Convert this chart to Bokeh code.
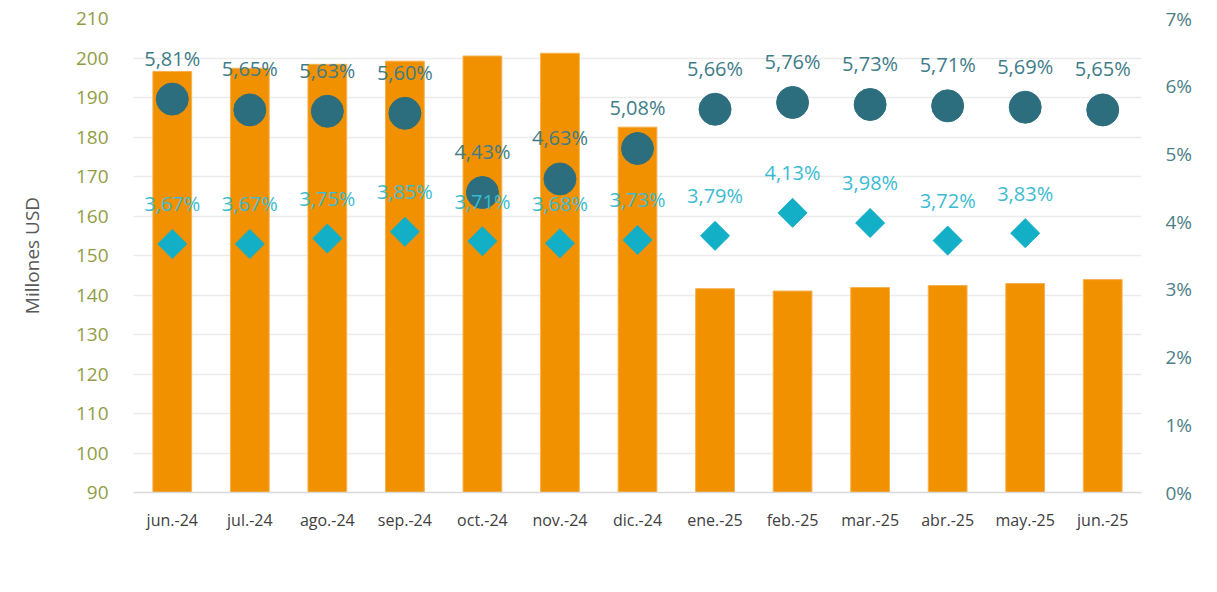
import math
import numpy as np
from bokeh.plotting import figure
from bokeh.models import (ColumnDataSource, Range1d, LinearAxis, SingleIntervalTicker,
                          PrintfTickFormatter, Legend, LegendItem)
from bokeh.core.properties import value
from bokeh.embed import file_html
from bokeh.resources import INLINE

months = ["jun.-24", "jul.-24", "ago.-24", "sep.-24", "oct.-24", "nov.-24", "dic.-24",
          "ene.-25", "feb.-25", "mar.-25", "abr.-25", "may.-25", "jun.-25"]
portafolio = [196.6, 197.4, 198.4, 199.2, 200.5, 201.2, 182.5,
              141.6, 141.0, 141.9, 142.4, 142.9, 143.9]
rendimiento = [5.81, 5.65, 5.63, 5.60, 4.43, 4.63, 5.08,
               5.66, 5.76, 5.73, 5.71, 5.69, 5.65]
tasa = [3.67, 3.67, 3.75, 3.85, 3.71, 3.68, 3.73,
        3.79, 4.13, 3.98, 3.72, 3.83, float("nan")]

def fmt(v):
    return "" if v != v else f"{v:.2f}%".replace(".", ",")

FONT = "Open Sans"

src = ColumnDataSource(dict(
    x=months, bar=portafolio, rend=rendimiento, tasa=tasa,
    rend_lbl=[fmt(v) for v in rendimiento], tasa_lbl=[fmt(v) for v in tasa],
))

p = figure(x_range=months, y_range=Range1d(90, 210),
           frame_width=1008, frame_height=474,
           output_backend="svg", toolbar_location=None,
           min_border_left=133, min_border_right=76, min_border_top=18, min_border_bottom=10)
p.extra_y_ranges = {"pct": Range1d(0, 7)}
p.outline_line_color = None
p.background_fill_color = "white"
p.border_fill_color = "white"

# grid
p.xgrid.grid_line_color = None
p.ygrid.grid_line_color = "#EBEBEB"
p.ygrid.grid_line_width = 1.5
p.ygrid.ticker = SingleIntervalTicker(interval=10)

# bars
p.vbar(x="x", top="bar", bottom=90, width=0.5, source=src,
       fill_color="#F29100", line_color="#F6B14F", line_width=1)

# markers on right axis
p.scatter(x="x", y="rend", source=src, y_range_name="pct", marker="circle",
          size=32, fill_color="#2C6E7D", line_color="#2C6E7D")
p.scatter(x="x", y="tasa", source=src, y_range_name="pct", marker="square",
          angle=math.pi / 4, size=20.5, fill_color="#12AFC7", line_color="#12AFC7")

# data labels
p.text(x="x", y="rend", text="rend_lbl", source=src, y_range_name="pct",
       y_offset=-41, text_align="center", text_baseline="middle",
       text_font=value(FONT), text_font_size="20px", text_color="#3E7C89")
p.text(x="x", y="tasa", text="tasa_lbl", source=src, y_range_name="pct",
       y_offset=-40, text_align="center", text_baseline="middle",
       text_font=value(FONT), text_font_size="20px", text_color="#3BBBD2")

# axes
ya = p.yaxis[0]
ya.ticker = SingleIntervalTicker(interval=10)
ya.axis_line_color = None
ya.major_tick_line_color = None
ya.minor_tick_line_color = None
ya.major_tick_out = 0
ya.major_tick_in = 0
ya.minor_tick_out = 0
ya.major_label_text_font = FONT
ya.major_label_text_font_size = "19px"
ya.major_label_text_color = "#939D45"
ya.major_label_standoff = 25
ya.axis_label = "Millones USD"
ya.axis_label_text_font = FONT
ya.axis_label_text_font_size = "19px"
ya.axis_label_text_font_style = "normal"
ya.axis_label_text_color = "#595959"
ya.axis_label_standoff = 28

ra = LinearAxis(y_range_name="pct", ticker=SingleIntervalTicker(interval=1),
                formatter=PrintfTickFormatter(format="%d%%"))
ra.axis_line_color = None
ra.major_tick_line_color = None
ra.minor_tick_line_color = None
ra.major_tick_out = 0
ra.major_tick_in = 0
ra.minor_tick_out = 0
ra.major_label_text_font = FONT
ra.major_label_text_font_size = "19px"
ra.major_label_text_color = "#4D7F87"
ra.major_label_standoff = 24
p.add_layout(ra, "right")

xa = p.xaxis[0]
xa.axis_line_color = "#D9D9D9"
xa.axis_line_width = 1.5
xa.major_tick_line_color = None
xa.minor_tick_line_color = None
xa.major_tick_out = 0
xa.major_tick_in = 0
xa.minor_tick_out = 0
xa.major_label_text_font = FONT
xa.major_label_text_font_size = "16px"
xa.major_label_text_color = "#404040"
xa.major_label_standoff = 16

# legend (dummy renderers so legend glyph shapes are controlled)
nan_src = ColumnDataSource(dict(x=[months[0]], y=[float("nan")]))
l1 = p.scatter(x="x", y="y", source=nan_src, marker="square", fill_color="#F29100",
               line_color="#F29100")
l2 = p.scatter(x="x", y="y", source=nan_src, marker="circle", fill_color="#2C6E7D",
               line_color="#2C6E7D")
l3 = p.scatter(x="x", y="y", source=nan_src, marker="diamond", fill_color="#12AFC7",
               line_color="#12AFC7")
legend = Legend(items=[LegendItem(label="Portafolio en USD", renderers=[l1]),
                       LegendItem(label="Rendimiento en USD", renderers=[l2]),
                       LegendItem(label="Tasa pasiva bancaria", renderers=[l3])],
                orientation="horizontal", location="top_left",
                glyph_width=38, glyph_height=38, label_standoff=0, spacing=43,
                padding=0, margin=18, border_line_color=None,
                background_fill_alpha=0,
                label_text_font=FONT, label_text_font_size="26px",
                label_text_color="#595959")
p.add_layout(legend, "below")

open("out.html", "w").write(file_html(p, INLINE))
